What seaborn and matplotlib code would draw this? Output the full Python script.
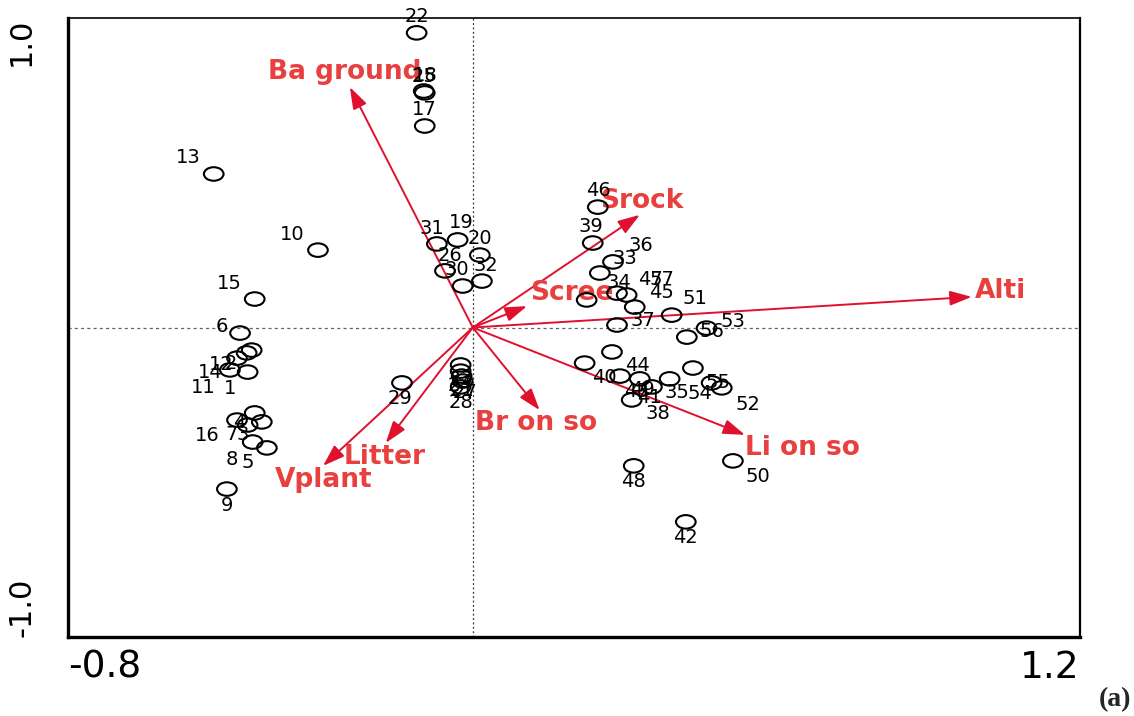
import numpy as np
import pandas as pd
import matplotlib
matplotlib.use('Agg')
import matplotlib.pyplot as plt
from matplotlib.markers import MarkerStyle
from matplotlib.transforms import Affine2D
import seaborn as sns

##################################################################
# site scores (axis 1, axis 2)
site_id = list(range(1, 58))
site_x = [-0.445, -0.437, -0.417, -0.431, -0.407, -0.460, -0.445, -0.435, -0.486, -0.306,
          -0.480, -0.447, -0.512, -0.466, -0.431, -0.466, -0.095, -0.095, -0.030, 0.014,
          -0.022, -0.111, -0.024, -0.024, -0.097, -0.055, -0.020, -0.024, -0.140, -0.020,
          -0.071, 0.018, 0.251, 0.225, 0.389, 0.277, 0.285, 0.314, 0.237, 0.221,
          0.354, 0.421, 0.291, 0.275, 0.320, 0.247, 0.285, 0.318, 0.330, 0.514,
          0.393, 0.492, 0.462, 0.435, 0.472, 0.423, 0.304]
site_y = [-0.144, -0.073, -0.305, -0.276, -0.389, -0.018, -0.315, -0.370, -0.522, 0.250,
          -0.137, -0.082, 0.496, -0.099, 0.092, -0.299, 0.651, 0.758, 0.283, 0.234,
          -0.157, 0.952, -0.121, -0.141, 0.764, 0.183, -0.173, -0.192, -0.179, 0.134,
          0.270, 0.150, 0.176, 0.089, -0.166, 0.212, 0.008, -0.234, 0.273, -0.115,
          -0.192, -0.628, -0.157, -0.079, 0.066, 0.389, 0.111, -0.447, -0.166, -0.431,
          0.040, -0.195, -0.002, -0.131, -0.179, -0.031, 0.105]

# environmental variables (biplot arrows)
env_names = ['Ba ground', 'Srock', 'Alti', 'Scree', 'Li on so', 'Br on so', 'Litter', 'Vplant']
env_x = [-0.243, 0.330, 0.986, 0.107, 0.538, 0.132, -0.172, -0.296]
env_y = [0.777, 0.364, 0.099, 0.069, -0.347, -0.267, -0.373, -0.447]

##################################################################
# label nudges in pixels (right, down)
label_nudge = {
    1: (-18, 16), 2: (-21, 13), 3: (-19, 13), 4: (-15, 10), 5: (-19, 15), 6: (-18, -7),
    7: (-16, 10), 8: (-21, 17), 9: (0, 16), 10: (-26, -16), 11: (-27, 18), 12: (-25, 12),
    13: (-25, -16), 14: (-27, 14), 15: (-25, -16), 16: (-30, 15), 17: (0, -17), 18: (1, -17),
    19: (4, -17), 20: (0, -17), 21: (0, 14), 22: (0, -16), 23: (0, 15), 24: (-1, 14),
    25: (0, -15), 26: (5, -15), 27: (2, 11), 28: (0, 16), 29: (-2, 16), 30: (-6, -17),
    31: (-5, -15), 32: (4, -16), 33: (25, -15), 34: (32, -17), 35: (7, 14), 36: (28, -16),
    37: (26, -5), 38: (26, 14), 39: (-2, -17), 40: (20, 14), 41: (-2, 11), 42: (0, 16),
    43: (16, 15), 44: (25, 14), 45: (27, -15), 46: (1, -17), 47: (33, -14), 48: (0, 16),
    49: (3, 11), 50: (25, 16), 51: (23, -17), 52: (26, 17), 53: (26, -7), 54: (7, 25),
    55: (6, 0), 56: (25, -6), 57: (35, -16),
}
env_nudge = {
    'Ba ground': (-5, -15, 'center'), 'Srock': (2, -14, 'center'), 'Alti': (3, -6, 'left'),
    'Scree': (3, -13, 'left'), 'Li on so': (0, 13, 'left'), 'Br on so': (-4, 13, 'center'),
    'Litter': (-1, 14, 'center'), 'Vplant': (1, 14, 'center'),
}

##################################################################
sns.set_theme(style='white')
plt.rcParams['font.family'] = ['DejaVu Sans']

arrow_col = '#e0102f'
text_col = '#e8403f'

fig = plt.figure(figsize=(11.34, 7.16), dpi=100)
ax = fig.add_axes([68/1134, 1 - 637/716, (1080 - 68)/1134, (637 - 18)/716])

ax.axhline(0, color='#666666', lw=0.9, ls=(0, (2.5, 2.5)), zorder=1)
ax.axvline(0, color='#333333', lw=0.9, ls=(0, (1.5, 2)), zorder=1)

# arrows
for name, ex, ey in zip(env_names, env_x, env_y):
    ax.annotate('', xy=(ex, ey), xytext=(0, 0),
                arrowprops=dict(arrowstyle='-|>,head_length=0.95,head_width=0.32',
                                color=arrow_col, lw=1.4, mutation_scale=14,
                                shrinkA=0, shrinkB=0), zorder=2)
    dx, dy, ha = env_nudge[name]
    ax.annotate(name, (ex, ey), xytext=(dx, -dy), textcoords='offset pixels',
                ha=ha, va='center', color=text_col, fontsize=19, fontweight='bold', zorder=2)

# sites
df = pd.DataFrame({'site': site_id, 'x': site_x, 'y': site_y})
ell = MarkerStyle('o', transform=Affine2D().scale(1.45, 1.0))
sns.scatterplot(data=df, x='x', y='y', ax=ax, marker=ell, s=95, color='black',
                facecolor='none', edgecolor='black', linewidth=1.5, zorder=3, legend=False)

for sid, sx, sy in zip(site_id, site_x, site_y):
    dx, dy = label_nudge[sid]
    ax.annotate(str(sid), (sx, sy), xytext=(dx, -dy), textcoords='offset pixels',
                ha='center', va='center', fontsize=14, color='black', zorder=4)

##################################################################
ax.set_xlim(-0.8, 1.2)
ax.set_ylim(-1.0, 1.0)
ax.set_xlabel('')
ax.set_ylabel('')
ax.set_xticks([-0.8, -0.5, 0, 0.5, 1.0, 1.2])
ax.set_xticklabels(['-0.8', '', '', '', '', '1.2'], fontsize=27)
ax.set_yticks([-1.0, -0.5, 0, 0.5, 1.0])
ax.set_yticklabels(['-1.0', '', '', '', '1.0'], fontsize=22, rotation=90)
ax.tick_params(axis='x', direction='out', length=6, width=1.3, pad=3, colors='black')
ax.tick_params(axis='y', direction='out', length=8, width=1.3, pad=15, colors='black')
xl = ax.get_xticklabels()
xl[0].set_ha('left')
xl[-1].set_ha('right')
yl = ax.get_yticklabels()
yl[0].set_va('bottom')
yl[-1].set_va('top')

for side, lw in [('left', 2.4), ('bottom', 2.4), ('top', 1.2), ('right', 1.6)]:
    ax.spines[side].set_visible(True)
    ax.spines[side].set_color('black')
    ax.spines[side].set_linewidth(lw)

fig.text(1115/1134, 1 - 700/716, '(a)', ha='center', va='center', fontsize=20,
         fontweight='bold', family=['Liberation Serif'])

plt.savefig('out.png', dpi=100)
